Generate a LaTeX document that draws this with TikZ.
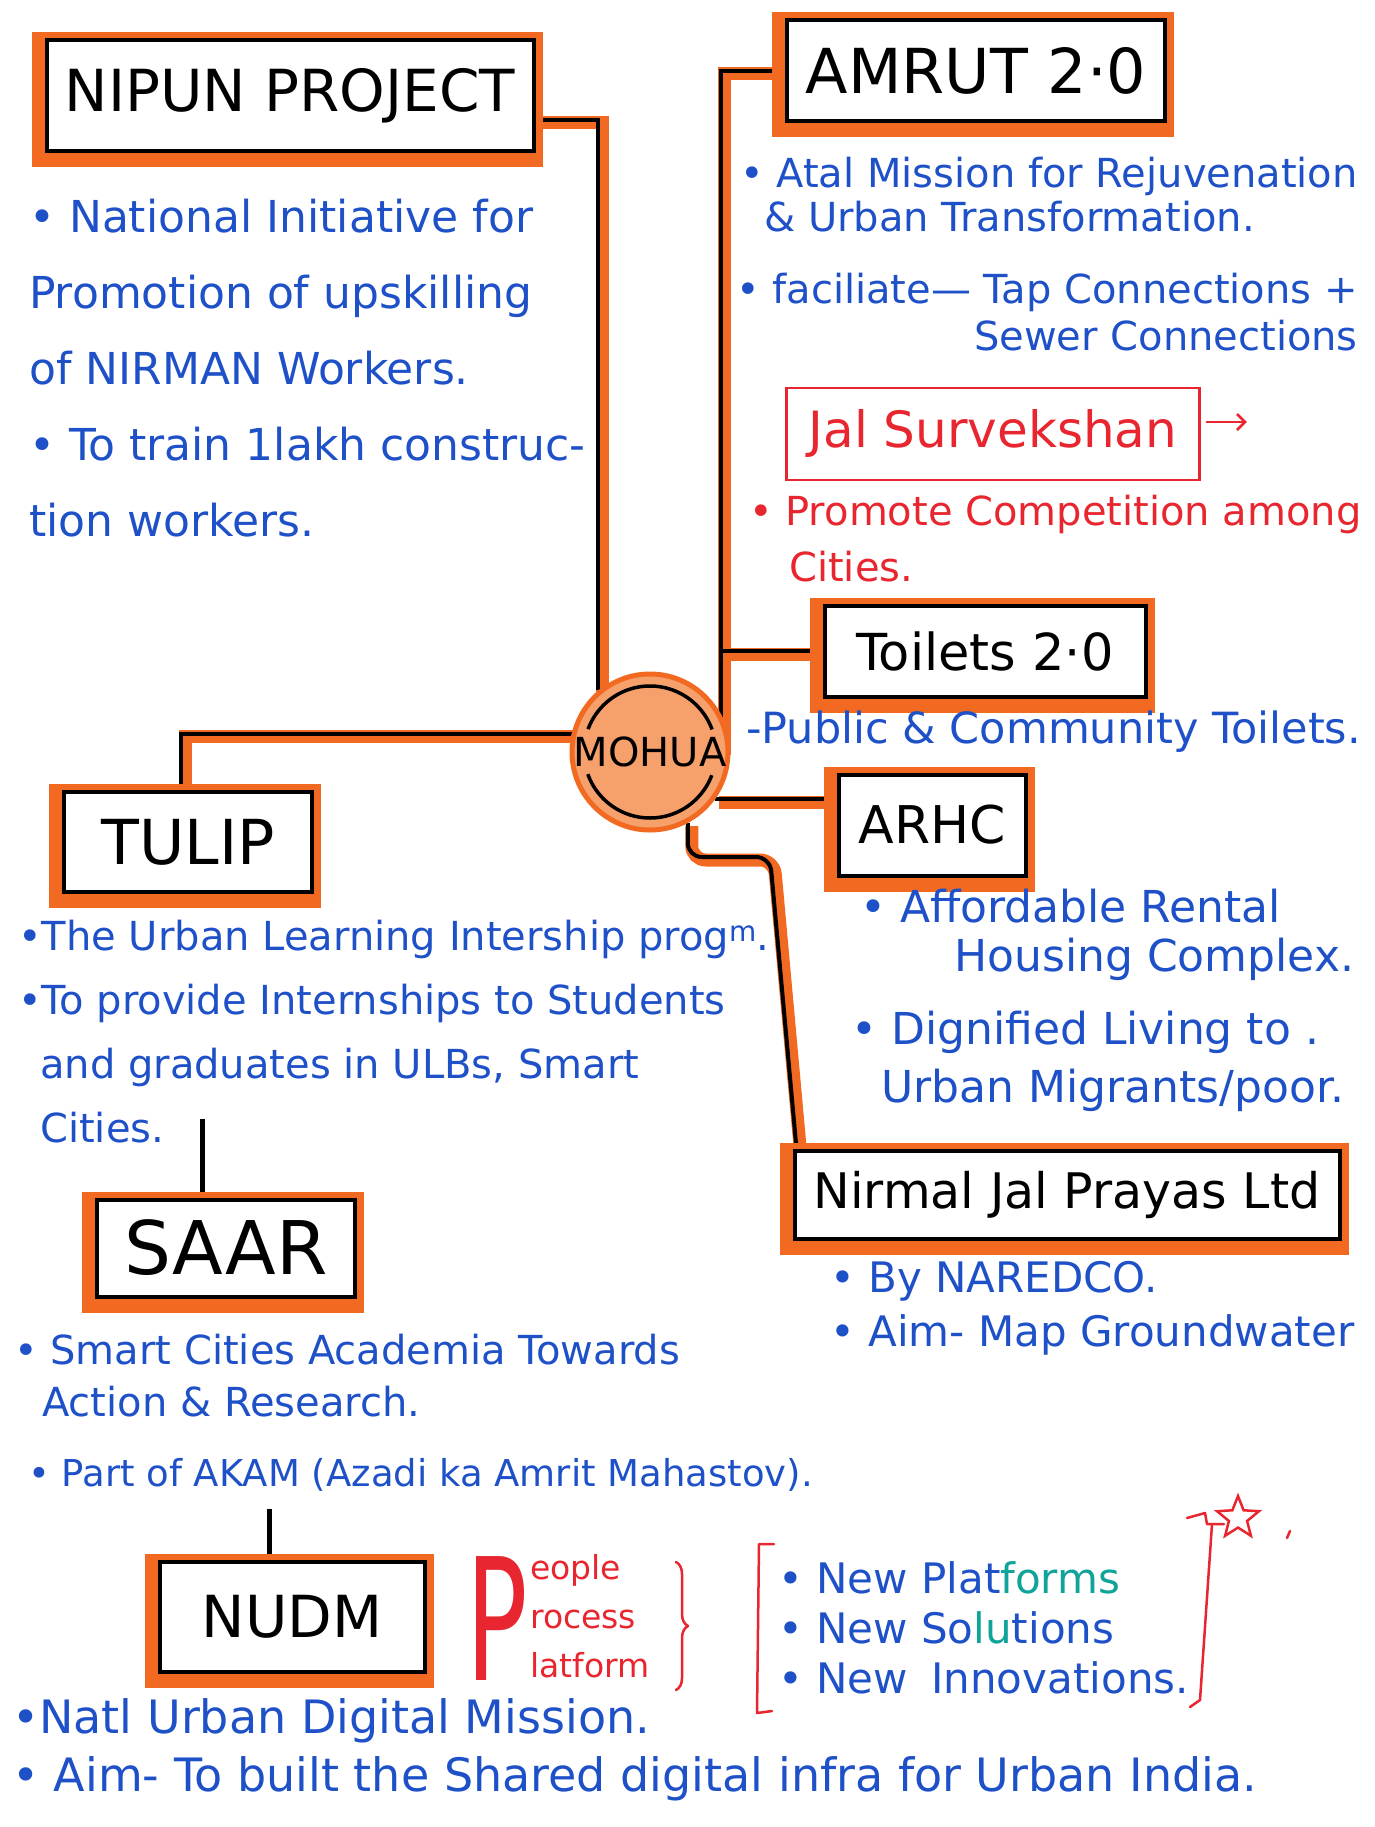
\documentclass[tikz,border=0pt]{standalone}
\usepackage{fontspec}
\setmainfont{DejaVu Sans}
\usepackage{graphicx}
\usepackage{tikz}
\usetikzlibrary{positioning}
\usetikzlibrary{backgrounds, shapes.geometric, decorations.pathreplacing, arrows.meta}
\usepackage{xcolor}
\definecolor{penorange}{HTML}{F26A21}
\definecolor{mohuafill}{HTML}{F6A06B}
\definecolor{inkblue}{HTML}{1E50C8}
\definecolor{inkred}{HTML}{E8262F}
\definecolor{inkteal}{HTML}{0FA39A}
\newcommand{\penfont}[2][0]{\fontsize{#2}{\dimexpr#2pt+#1pt\relax}\selectfont}

\begin{document}
\begin{tikzpicture}[
x = 1pt, y = -1pt,
topic/.style = {rectangle, draw = black, line width = 4pt, fill = white, inner sep = 0pt,
  preaction = {draw = penorange, line width = 24pt, transform canvas = {shift = {(-3pt,-4pt)}}}},
link/.style = {draw = black, line width = 4pt,
  preaction = {draw = penorange, line width = 13pt, transform canvas = {shift = {(4pt,-3pt)}}}},
stem/.style = {draw = black, line width = 5pt},
note/.style = {anchor = north west, inner sep = 0pt, align = left, text = inkblue},
rednote/.style = {note, text = inkred},
redpen/.style = {draw = inkred, line width = 2.5pt, line cap = round, line join = round}
]
\useasboundingbox (0,0) rectangle (1374,1827);

% hub
\node[circle, minimum size = 156pt, inner sep = 0pt, fill = mohuafill, draw = penorange,
  line width = 5pt, font = {\penfont{40}}] (mohua) at (650,752) {MOHUA};
\node[circle, minimum size = 132pt, draw = black, line width = 3.5pt,
  dash pattern = on 161pt off 46pt, dash phase = 184pt] at (mohua.center) {};
\coordinate (hub) at ([xshift=-10pt]mohua.east);

% topic boxes
\node[topic, minimum width = 487pt, minimum height = 111pt, font = {\penfont{58}}] (nipun) at (290,96) {NIPUN PROJECT};
\node[topic, minimum width = 378pt, minimum height = 101pt, font = {\penfont{62}}] (amrut) at (976,71) {AMRUT 2·0};
\node[topic, minimum width = 321pt, minimum height = 91pt, font = {\penfont{51}}] (toilets) at (985,651) {Toilets 2·0};
\node[topic, minimum width = 187pt, minimum height = 101pt, font = {\penfont{52}}] (arhc) at (932,825) {ARHC};
\node[topic, minimum width = 545pt, minimum height = 88pt, font = {\penfont{49}}] (nirmal) at (1067,1195) {Nirmal Jal Prayas Ltd};
\node[topic, minimum width = 248pt, minimum height = 100pt, font = {\penfont{62}}] (tulip) at (188,842) {TULIP};
\node[topic, minimum width = 258pt, minimum height = 97pt, font = {\penfont{74}}] (saar) at (226,1248) {SAAR};
\node[topic, minimum width = 265pt, minimum height = 110pt, font = {\penfont{58}}] (nudm) at (292,1617) {NUDM};

% connectors
\coordinate (njbend) at (770,857);
\coordinate (tulipend) at (202,1119);
\coordinate (saarend) at (269,1509);
\begin{scope}[on background layer]
\draw[link] ([yshift=-24pt]nipun.east) -| (mohua.130);
\draw[link] (amrut.west) -| (hub);
\draw[link] (toilets.west) -- (toilets.west -| hub);
\draw[link] (mohua.-36) -- (mohua.-36 -| arhc.west);
\draw[link, rounded corners = 14pt] (mohua.-62) |- (njbend) -- ([xshift=4pt]nirmal.north west);
\draw[link] (mohua.167) -| ([xshift=-7pt]tulip.north);
\draw[stem] (tulipend) -- (tulipend |- saar.north);
\draw[stem] (saarend) -- (saarend |- nudm.north);
\end{scope}

% NIPUN
\node[note, font = {\penfont[32]{44}}] (nipunnote) at (29,199)
  {• National Initiative for\\ Promotion of upskilling\\ of NIRMAN Workers.\\
   • To train 1lakh construc-\\ tion workers.};

% AMRUT
\node[note, font = {\penfont[4]{40}}] (amrutnote) at (740,157)
  {• Atal Mission for Rejuvenation\\ \hspace*{24pt}\& Urban Transformation.};
\node[note, anchor = north east, align = right, font = {\penfont[7]{40}}] (tapnote) at (1358,273)
  {• faciliate— Tap Connections +\\ Sewer Connections};
\node[rectangle, draw = inkred, line width = 2.5pt, minimum width = 413pt, minimum height = 92pt,
  text = inkred, font = {\penfont{50}}] (jal) at (993,434) {Jal Survekshan};
\coordinate (jaltip) at ([xshift=46pt, yshift=12pt]jal.east);
\draw[redpen, -{Straight Barb[length=8pt]}] ([xshift=6pt, yshift=12pt]jal.east) -- (jaltip);
\node[rednote, font = {\penfont[16]{40}}] (promnote) at (749,495)
  {• Promote Competition among\\ \hspace*{40pt}Cities.};

% Toilets, ARHC, Nirmal
\node[note, font = {\penfont{43}}] (toilnote) at (746,711) {-Public \& Community Toilets.};
\node[note, font = {\penfont[5]{44}}] (arhcnote) at (860,889)
  {• Affordable Rental\\ \hspace*{94pt}Housing Complex.};
\node[note, font = {\penfont[14]{44}}] (livenote) at (851,1011)
  {• Dignified Living to .\\ \hspace*{30pt}Urban Migrants/poor.};
\node[note, font = {\penfont[12]{42}}] (njnote) at (830,1261)
  {• By NAREDCO.\\ • Aim- Map Groundwater};

% TULIP
\node[note, font = {\penfont[24]{40}}] (tulipnote) at (18,920)
  {•The Urban Learning Intership prog\textsuperscript{m}.\\
   •To provide Internships to Students\\
   \hspace*{22pt}and graduates in ULBs, Smart\\
   \hspace*{22pt}Cities.};

% SAAR
\node[note, font = {\penfont[12]{40}}] (saarnote) at (14,1334)
  {• Smart Cities Academia Towards\\ \hspace*{28pt}Action \& Research.};
\node[note, font = {\penfont{37}}] (akamnote) at (28,1458)
  {• Part of AKAM (Azadi ka Amrit Mahastov).};

% NUDM
\node[note, font = {\penfont[12]{46}}] (nudmnote) at (12,1698)
  {•Natl Urban Digital Mission.\\
   • Aim- To built the Shared digital infra for Urban India.};
\node[anchor = north west, inner sep = 0pt, text = inkred, font = {\penfont{170}}] (bigp) at (466,1556)
  {\scalebox{0.6}[1]{P}};
\node[rednote, font = {\penfont[16]{33}}] (pppnote) at (530,1554) {eople\\ rocess\\ latform};
\draw[redpen, decorate, decoration = {brace, amplitude = 12pt}] (676,1562) -- (676,1690);
\draw[redpen] (774,1544) -- (759,1544) -- (757,1713) -- (772,1711);
\node[note, font = {\penfont[8]{42}}] (newnote) at (778,1561)
  {• New Plat\textcolor{inkteal}{forms}\\ • New So\textcolor{inkteal}{lu}tions\\ • New \hspace{10pt}Innovations.};
\draw[redpen] (1187,1518) -- (1205,1513) -- (1207,1524) -- (1224,1524);
\draw[redpen] (1212,1524) -- (1200,1700) -- (1190,1707);
\node[star, star points = 5, star point ratio = 2.3, draw = inkred, line width = 2.5pt,
  minimum size = 44pt, inner sep = 0pt] (flagstar) at (1238,1518) {};
\draw[redpen] (1290,1531) -- (1287,1538);
\end{tikzpicture}
\end{document}
